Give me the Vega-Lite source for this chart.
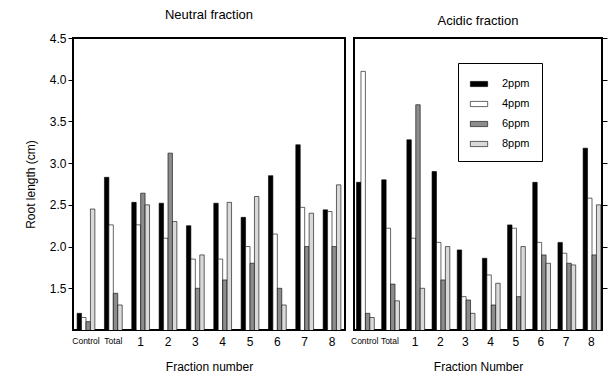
{
  "$schema": "https://vega.github.io/schema/vega-lite/v6.json",
  "background": "white",
  "padding": {"left": 23, "top": 8, "right": 0, "bottom": 5},
  "spacing": 3,
  "config": {
    "font": "Liberation Sans",
    "view": {"stroke": "black", "strokeWidth": 2},
    "axis": {"grid": false, "domainColor": "black", "tickColor": "black", "labelColor": "black", "titleColor": "black", "labelFontSize": 12, "titleFontSize": 12, "titleFontWeight": "normal"},
    "title": {"fontSize": 13, "fontWeight": "normal", "color": "black", "offset": 10},
    "legend": {"title": null, "orient": "none", "legendX": 385, "legendY": 25, "symbolType": "M-1,-0.3L1,-0.3L1,0.3L-1,0.3Z", "symbolSize": 300, "symbolStrokeColor": "black", "symbolStrokeWidth": 0.6, "labelFontSize": 11, "labelColor": "black", "strokeColor": "black", "padding": 12, "fillColor": "white", "rowPadding": 6, "labelOffset": 14}
  },
  "datasets": {
    "roots": [
      {"panel": "Neutral", "fraction": "Control", "conc": "2ppm", "length": 1.2},
      {"panel": "Neutral", "fraction": "Control", "conc": "4ppm", "length": 1.15},
      {"panel": "Neutral", "fraction": "Control", "conc": "6ppm", "length": 1.1},
      {"panel": "Neutral", "fraction": "Control", "conc": "8ppm", "length": 2.45},
      {"panel": "Neutral", "fraction": "Total", "conc": "2ppm", "length": 2.83},
      {"panel": "Neutral", "fraction": "Total", "conc": "4ppm", "length": 2.26},
      {"panel": "Neutral", "fraction": "Total", "conc": "6ppm", "length": 1.44},
      {"panel": "Neutral", "fraction": "Total", "conc": "8ppm", "length": 1.3},
      {"panel": "Neutral", "fraction": "1", "conc": "2ppm", "length": 2.53},
      {"panel": "Neutral", "fraction": "1", "conc": "4ppm", "length": 2.26},
      {"panel": "Neutral", "fraction": "1", "conc": "6ppm", "length": 2.64},
      {"panel": "Neutral", "fraction": "1", "conc": "8ppm", "length": 2.5},
      {"panel": "Neutral", "fraction": "2", "conc": "2ppm", "length": 2.52},
      {"panel": "Neutral", "fraction": "2", "conc": "4ppm", "length": 2.1},
      {"panel": "Neutral", "fraction": "2", "conc": "6ppm", "length": 3.12},
      {"panel": "Neutral", "fraction": "2", "conc": "8ppm", "length": 2.3},
      {"panel": "Neutral", "fraction": "3", "conc": "2ppm", "length": 2.25},
      {"panel": "Neutral", "fraction": "3", "conc": "4ppm", "length": 1.85},
      {"panel": "Neutral", "fraction": "3", "conc": "6ppm", "length": 1.5},
      {"panel": "Neutral", "fraction": "3", "conc": "8ppm", "length": 1.9},
      {"panel": "Neutral", "fraction": "4", "conc": "2ppm", "length": 2.52},
      {"panel": "Neutral", "fraction": "4", "conc": "4ppm", "length": 1.85},
      {"panel": "Neutral", "fraction": "4", "conc": "6ppm", "length": 1.6},
      {"panel": "Neutral", "fraction": "4", "conc": "8ppm", "length": 2.53},
      {"panel": "Neutral", "fraction": "5", "conc": "2ppm", "length": 2.35},
      {"panel": "Neutral", "fraction": "5", "conc": "4ppm", "length": 2.0},
      {"panel": "Neutral", "fraction": "5", "conc": "6ppm", "length": 1.8},
      {"panel": "Neutral", "fraction": "5", "conc": "8ppm", "length": 2.6},
      {"panel": "Neutral", "fraction": "6", "conc": "2ppm", "length": 2.85},
      {"panel": "Neutral", "fraction": "6", "conc": "4ppm", "length": 2.15},
      {"panel": "Neutral", "fraction": "6", "conc": "6ppm", "length": 1.5},
      {"panel": "Neutral", "fraction": "6", "conc": "8ppm", "length": 1.3},
      {"panel": "Neutral", "fraction": "7", "conc": "2ppm", "length": 3.22},
      {"panel": "Neutral", "fraction": "7", "conc": "4ppm", "length": 2.47},
      {"panel": "Neutral", "fraction": "7", "conc": "6ppm", "length": 2.0},
      {"panel": "Neutral", "fraction": "7", "conc": "8ppm", "length": 2.4},
      {"panel": "Neutral", "fraction": "8", "conc": "2ppm", "length": 2.44},
      {"panel": "Neutral", "fraction": "8", "conc": "4ppm", "length": 2.42},
      {"panel": "Neutral", "fraction": "8", "conc": "6ppm", "length": 2.0},
      {"panel": "Neutral", "fraction": "8", "conc": "8ppm", "length": 2.74},
      {"panel": "Acidic", "fraction": "Control", "conc": "2ppm", "length": 2.77},
      {"panel": "Acidic", "fraction": "Control", "conc": "4ppm", "length": 4.1},
      {"panel": "Acidic", "fraction": "Control", "conc": "6ppm", "length": 1.2},
      {"panel": "Acidic", "fraction": "Control", "conc": "8ppm", "length": 1.15},
      {"panel": "Acidic", "fraction": "Total", "conc": "2ppm", "length": 2.8},
      {"panel": "Acidic", "fraction": "Total", "conc": "4ppm", "length": 2.22},
      {"panel": "Acidic", "fraction": "Total", "conc": "6ppm", "length": 1.55},
      {"panel": "Acidic", "fraction": "Total", "conc": "8ppm", "length": 1.35},
      {"panel": "Acidic", "fraction": "1", "conc": "2ppm", "length": 3.28},
      {"panel": "Acidic", "fraction": "1", "conc": "4ppm", "length": 2.1},
      {"panel": "Acidic", "fraction": "1", "conc": "6ppm", "length": 3.7},
      {"panel": "Acidic", "fraction": "1", "conc": "8ppm", "length": 1.5},
      {"panel": "Acidic", "fraction": "2", "conc": "2ppm", "length": 2.9},
      {"panel": "Acidic", "fraction": "2", "conc": "4ppm", "length": 2.05},
      {"panel": "Acidic", "fraction": "2", "conc": "6ppm", "length": 1.6},
      {"panel": "Acidic", "fraction": "2", "conc": "8ppm", "length": 2.0},
      {"panel": "Acidic", "fraction": "3", "conc": "2ppm", "length": 1.96},
      {"panel": "Acidic", "fraction": "3", "conc": "4ppm", "length": 1.4},
      {"panel": "Acidic", "fraction": "3", "conc": "6ppm", "length": 1.36},
      {"panel": "Acidic", "fraction": "3", "conc": "8ppm", "length": 1.2},
      {"panel": "Acidic", "fraction": "4", "conc": "2ppm", "length": 1.86},
      {"panel": "Acidic", "fraction": "4", "conc": "4ppm", "length": 1.66},
      {"panel": "Acidic", "fraction": "4", "conc": "6ppm", "length": 1.3},
      {"panel": "Acidic", "fraction": "4", "conc": "8ppm", "length": 1.56},
      {"panel": "Acidic", "fraction": "5", "conc": "2ppm", "length": 2.26},
      {"panel": "Acidic", "fraction": "5", "conc": "4ppm", "length": 2.22},
      {"panel": "Acidic", "fraction": "5", "conc": "6ppm", "length": 1.4},
      {"panel": "Acidic", "fraction": "5", "conc": "8ppm", "length": 2.0},
      {"panel": "Acidic", "fraction": "6", "conc": "2ppm", "length": 2.77},
      {"panel": "Acidic", "fraction": "6", "conc": "4ppm", "length": 2.05},
      {"panel": "Acidic", "fraction": "6", "conc": "6ppm", "length": 1.9},
      {"panel": "Acidic", "fraction": "6", "conc": "8ppm", "length": 1.8},
      {"panel": "Acidic", "fraction": "7", "conc": "2ppm", "length": 2.05},
      {"panel": "Acidic", "fraction": "7", "conc": "4ppm", "length": 1.92},
      {"panel": "Acidic", "fraction": "7", "conc": "6ppm", "length": 1.8},
      {"panel": "Acidic", "fraction": "7", "conc": "8ppm", "length": 1.78},
      {"panel": "Acidic", "fraction": "8", "conc": "2ppm", "length": 3.18},
      {"panel": "Acidic", "fraction": "8", "conc": "4ppm", "length": 2.58},
      {"panel": "Acidic", "fraction": "8", "conc": "6ppm", "length": 1.9},
      {"panel": "Acidic", "fraction": "8", "conc": "8ppm", "length": 2.5}
    ]
  },
  "hconcat": [
    {
      "width": 272,
      "height": 292,
      "title": "Neutral fraction",
      "data": {"name": "roots"},
      "transform": [{"filter": "datum.panel === 'Neutral'"}],
      "mark": {"type": "bar", "stroke": "black", "strokeWidth": 0.6, "clip": true},
      "encoding": {
        "x": {"field": "fraction", "type": "nominal", "sort": ["Control", "Total", "1", "2", "3", "4", "5", "6", "7", "8"], "scale": {"paddingInner": 0.35, "paddingOuter": 0.15}, "axis": {"title": "Fraction number", "labelAngle": 0, "ticks": false, "domain": false, "labelPadding": 6, "titlePadding": 14, "labelFontSize": {"expr": "datum.label === 'Control' || datum.label === 'Total' ? 8.5 : 12"}}},
        "xOffset": {"field": "conc", "type": "nominal", "sort": ["2ppm", "4ppm", "6ppm", "8ppm"]},
        "y": {"field": "length", "type": "quantitative", "scale": {"domain": [1.0, 4.5], "zero": false}, "axis": {"title": "Root length (cm)", "values": [1.5, 2.0, 2.5, 3.0, 3.5, 4.0, 4.5], "format": ".1f", "titlePadding": 12}},
        "fill": {"field": "conc", "type": "nominal", "sort": ["2ppm", "4ppm", "6ppm", "8ppm"], "scale": {"domain": ["2ppm", "4ppm", "6ppm", "8ppm"], "range": ["#000000", "#ffffff", "#8c8c8c", "#d9d9d9"]}}
      }
    },
    {
      "width": 248,
      "height": 292,
      "title": "Acidic fraction",
      "data": {"name": "roots"},
      "transform": [{"filter": "datum.panel === 'Acidic'"}],
      "mark": {"type": "bar", "stroke": "black", "strokeWidth": 0.6, "clip": true},
      "encoding": {
        "x": {"field": "fraction", "type": "nominal", "sort": ["Control", "Total", "1", "2", "3", "4", "5", "6", "7", "8"], "scale": {"paddingInner": 0.35, "paddingOuter": 0.1}, "axis": {"title": "Fraction Number", "labelAngle": 0, "ticks": false, "domain": false, "labelPadding": 6, "titlePadding": 14, "labelFontSize": {"expr": "datum.label === 'Control' || datum.label === 'Total' ? 8.5 : 12"}}},
        "xOffset": {"field": "conc", "type": "nominal", "sort": ["2ppm", "4ppm", "6ppm", "8ppm"]},
        "y": {"field": "length", "type": "quantitative", "scale": {"domain": [1.0, 4.5], "zero": false}, "axis": {"orient": "right", "title": null, "labels": false, "values": [1.5, 2.0, 2.5, 3.0, 3.5, 4.0, 4.5], "domain": false}},
        "fill": {"field": "conc", "type": "nominal", "sort": ["2ppm", "4ppm", "6ppm", "8ppm"], "scale": {"domain": ["2ppm", "4ppm", "6ppm", "8ppm"], "range": ["#000000", "#ffffff", "#8c8c8c", "#d9d9d9"]}}
      }
    }
  ]
}
